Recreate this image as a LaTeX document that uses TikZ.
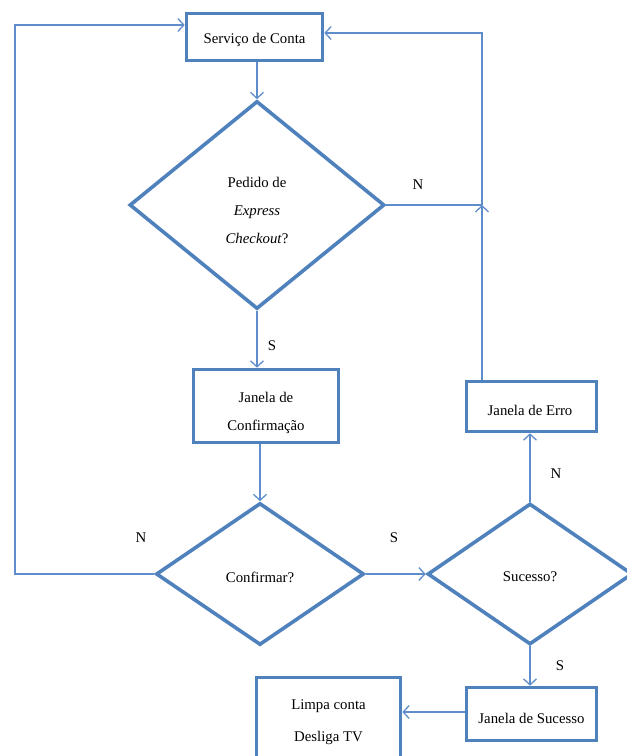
\documentclass[tikz,border=0pt]{standalone}
\usepackage{fontspec}
\setmainfont{Liberation Serif}
\usetikzlibrary{shapes.geometric,arrows.meta,calc}
\definecolor{boxblue}{HTML}{4F81BD}
\definecolor{lineblue}{HTML}{5F8DCB}
\begin{document}
\begin{tikzpicture}[x=1pt,y=-1pt,
  every node/.style={font=\fontsize{14.8}{28}\selectfont},
  procbox/.style={draw=boxblue,line width=3.6pt,rectangle,inner sep=0pt},
  decbox/.style={draw=boxblue,line width=3.6pt,diamond,inner sep=0pt},
  txt/.style={inner sep=0pt,align=center},
  conn/.style={draw=lineblue,line width=1.3pt},
  arr/.style={conn,-{Straight Barb[length=6pt,width=13pt,line width=1.3pt]}},
  lbl/.style={inner sep=0pt}]
\useasboundingbox (0,0) rectangle (627,756);
% shapes
\node[procbox,minimum width=136pt,minimum height=47pt] (serv) at (254.5,37) {};
\node[decbox,minimum width=255pt,minimum height=208pt] (d1) at (257,205) {};
\node[procbox,minimum width=145pt,minimum height=73pt] (conf) at (266,406) {};
\node[decbox,minimum width=208pt,minimum height=142pt] (d2) at (260,574) {};
\node[decbox,minimum width=205pt,minimum height=141pt] (d3) at (530,574) {};
\node[procbox,minimum width=130pt,minimum height=50pt] (erro) at (531.5,406.5) {};
\node[procbox,minimum width=130pt,minimum height=53pt] (suc) at (531.5,714) {};
\node[procbox,minimum width=144pt,minimum height=95pt] (limpa) at (328.5,725) {};
% texts
\node[txt] (servT) at (254.5,40) {Serviço de Conta};
\node[txt] (d1T) at (257,210) {Pedido de\\\textit{Express}\\\textit{Checkout}?};
\node[txt] (confT) at (266,413) {Janela de\\Confirmação};
\node[txt] (d2T) at (260,577) {Confirmar?};
\node[txt] (d3T) at (530,577) {Sucesso?};
\node[txt] (erroT) at (530,410) {Janela de Erro};
\node[txt] (sucT) at (531.5,718) {Janela de Sucesso};
\node[txt,font=\fontsize{14.8}{32}\selectfont] (limpaT) at (328.5,722) {Limpa conta\\Desliga TV};
\coordinate (j) at (482,205);
\coordinate (lft) at (15,574);
% connectors
\draw[arr] (d1.north |- serv.south) -- (d1.north);
\draw[arr] (d1.south) -- (d1.south |- conf.north);
\draw[arr] (d2.north |- conf.south) -- (d2.north);
\draw[arr] (d2.east) -- (d3.west);
\draw[arr] (d2.west) -- (lft) |- ([yshift=12pt]serv.west);
\draw[conn] (d1.east) -- (j);
\draw[arr] (erro.north -| j) -- (j);
\draw[arr] (j) |- ([yshift=4pt]serv.east);
\draw[arr] (d3.north) -- (d3.north |- erro.south);
\draw[arr] (d3.south) -- (d3.south |- suc.north);
\draw[arr] ([yshift=2pt]suc.west) -- ([yshift=2pt]suc.west -| limpa.east);
% labels
\node[lbl] (ln1) at (418,185) {N};
\node[lbl] (ls1) at (272,346) {S};
\node[lbl] (ln2) at (141,538) {N};
\node[lbl] (ls2) at (394,538) {S};
\node[lbl] (ln3) at (556,474) {N};
\node[lbl] (ls3) at (560,666) {S};
\end{tikzpicture}
\end{document}
